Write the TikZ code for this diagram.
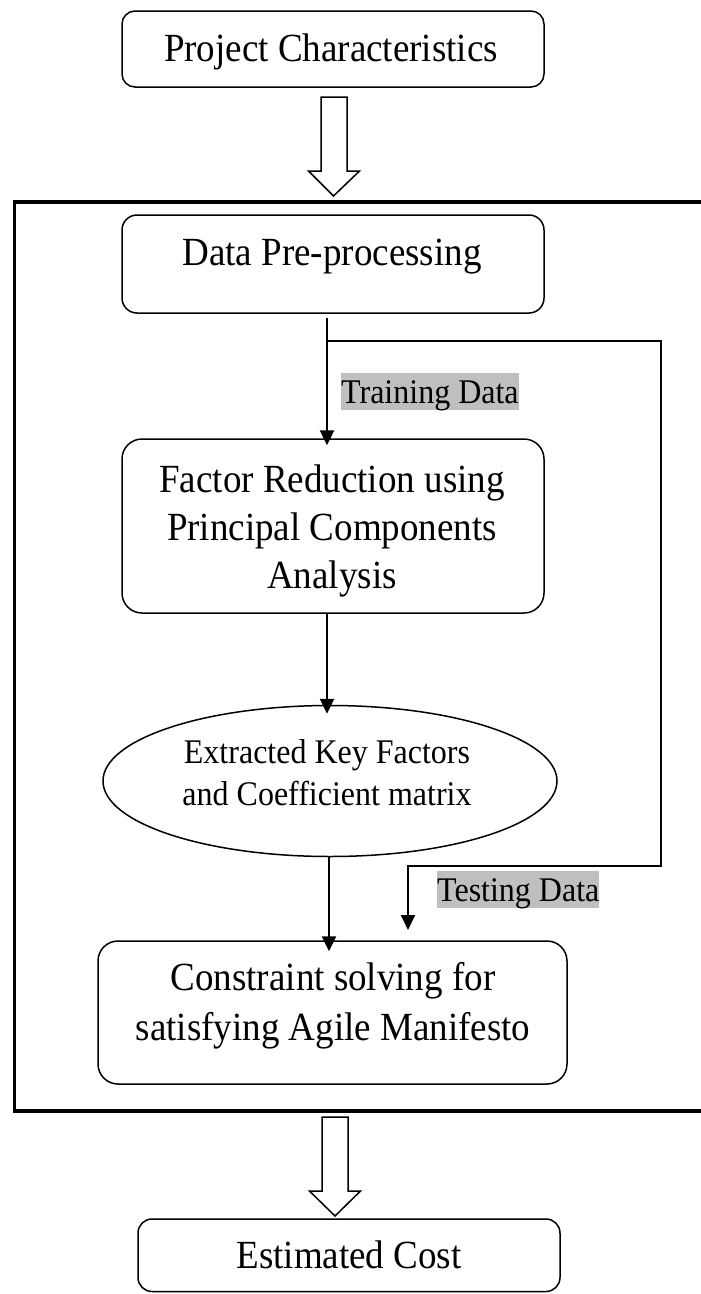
\documentclass[tikz,border=0pt]{standalone}
\usepackage{graphicx}
\usepackage{fontspec}
\setmainfont{Liberation Serif}
\usetikzlibrary{arrows.meta,shapes.geometric}
\definecolor{hlgray}{RGB}{191,191,191}
% slightly tall lettering
\newcommand{\tallset}[1]{\scalebox{1}[1.08]{#1}}
\begin{document}
\begin{tikzpicture}[x=1pt,y=-1pt,
  box/.style={draw, line width=1.5pt, rounded corners=#1, inner sep=0pt},
  txt/.style={inner sep=0pt, font=\fontsize{37}{44.5}\selectfont},
  smalltxt/.style={inner sep=0pt, font=\fontsize{32}{39.8}\selectfont},
  hilite/.style={fill=hlgray, inner xsep=0pt, inner ysep=0pt,
    text height=30pt, text depth=7pt, font=\fontsize{32}{37}\selectfont},
  arr/.style={line width=2.4pt, -{Triangle[length=15pt,width=14pt]}},
  branch/.style={line width=1.8pt, -{Triangle[length=15pt,width=14pt]}},
  hollow/.style={draw, line width=1.5pt, fill=white, line join=miter},
  frame/.style={draw, line width=3.5pt}]

\clip (0,0) rectangle (701,1294);
\fill[white] (0,0) rectangle (701,1294);

% outer frame (right side runs past the page edge)
\draw[frame] (14.5,202) rectangle (712,1111);

% boxes
\node[box=13pt, minimum width=422pt, minimum height=76pt] (pc) at (333,49) {};
\node[txt, anchor=base] (pct) at (331,61) {\tallset{Project Characteristics}};

\node[box=15pt, minimum width=422pt, minimum height=98pt] (dp) at (333,264) {};
\node[txt, anchor=base] (dpt) at (332,265) {\tallset{Data Pre-processing}};

\node[box=20pt, minimum width=422pt, minimum height=174pt] (fr) at (333,526) {};
\node[txt, anchor=base] (frt) at (332,492)
  {\tallset{\begin{tabular}[t]{@{}c@{}}Factor Reduction using\\Principal Components\\Analysis\end{tabular}}};

\node[draw, ellipse, line width=1.5pt, inner sep=0pt,
      minimum width=454pt, minimum height=151pt] (ek) at (330,781) {};
\node[smalltxt, anchor=base] (ekt) at (327,763)
  {\tallset{\begin{tabular}[t]{@{}c@{}}Extracted Key Factors\\and Coefficient matrix\end{tabular}}};

\node[box=20pt, minimum width=469pt, minimum height=143pt] (cs) at (332.5,1012.5) {};
\node[txt, anchor=base, font=\fontsize{37}{46.3}\selectfont] (cst) at (333,990)
  {\tallset{\begin{tabular}[t]{@{}c@{}}Constraint solving for\\satisfying Agile Manifesto\end{tabular}}};

\node[box=14pt, minimum width=422pt, minimum height=72.5pt] (ec) at (349,1255.25) {};
\node[txt, anchor=base] (ect) at (349,1268) {\tallset{Estimated Cost}};

% hollow block arrows
\coordinate (ha1) at (334,97);
\draw[hollow] (ha1) ++(-13,0) -- ++(26,0) -- ++(0,74) -- ++(12.5,0)
  -- ++(-26,25) -- ++(-25,-25) -- ++(12.5,0) -- cycle;
\coordinate (ha2) at (335,1117);
\draw[hollow] (ha2) ++(-13,0) -- ++(26,0) -- ++(0,74) -- ++(12.5,0)
  -- ++(-25.5,25) -- ++(-25.5,-25) -- ++(12.5,0) -- cycle;

% data flow
\coordinate (t0) at (327,318);
\coordinate (br) at (327,341);
\draw[arr] (t0) -- ([yshift=-7pt]t0 |- fr.north);
\node[hilite, anchor=base west] (trn) at (341,403) {\tallset{Training Data}};

\coordinate (f0) at (327,613);
\draw[arr] (f0) -- ([yshift=-9pt]f0 |- ek.north);

\coordinate (e0) at (329,857);
\draw[arr] (e0) -- ([yshift=-11pt]e0 |- cs.north);

\coordinate (rt) at (661,866);
\coordinate (tst) at (408,930);
\draw[branch] (br) -| (rt) -| (tst);
\node[hilite, anchor=base west] (tsd) at (437,901) {\tallset{Testing Data}};

\end{tikzpicture}
\end{document}
